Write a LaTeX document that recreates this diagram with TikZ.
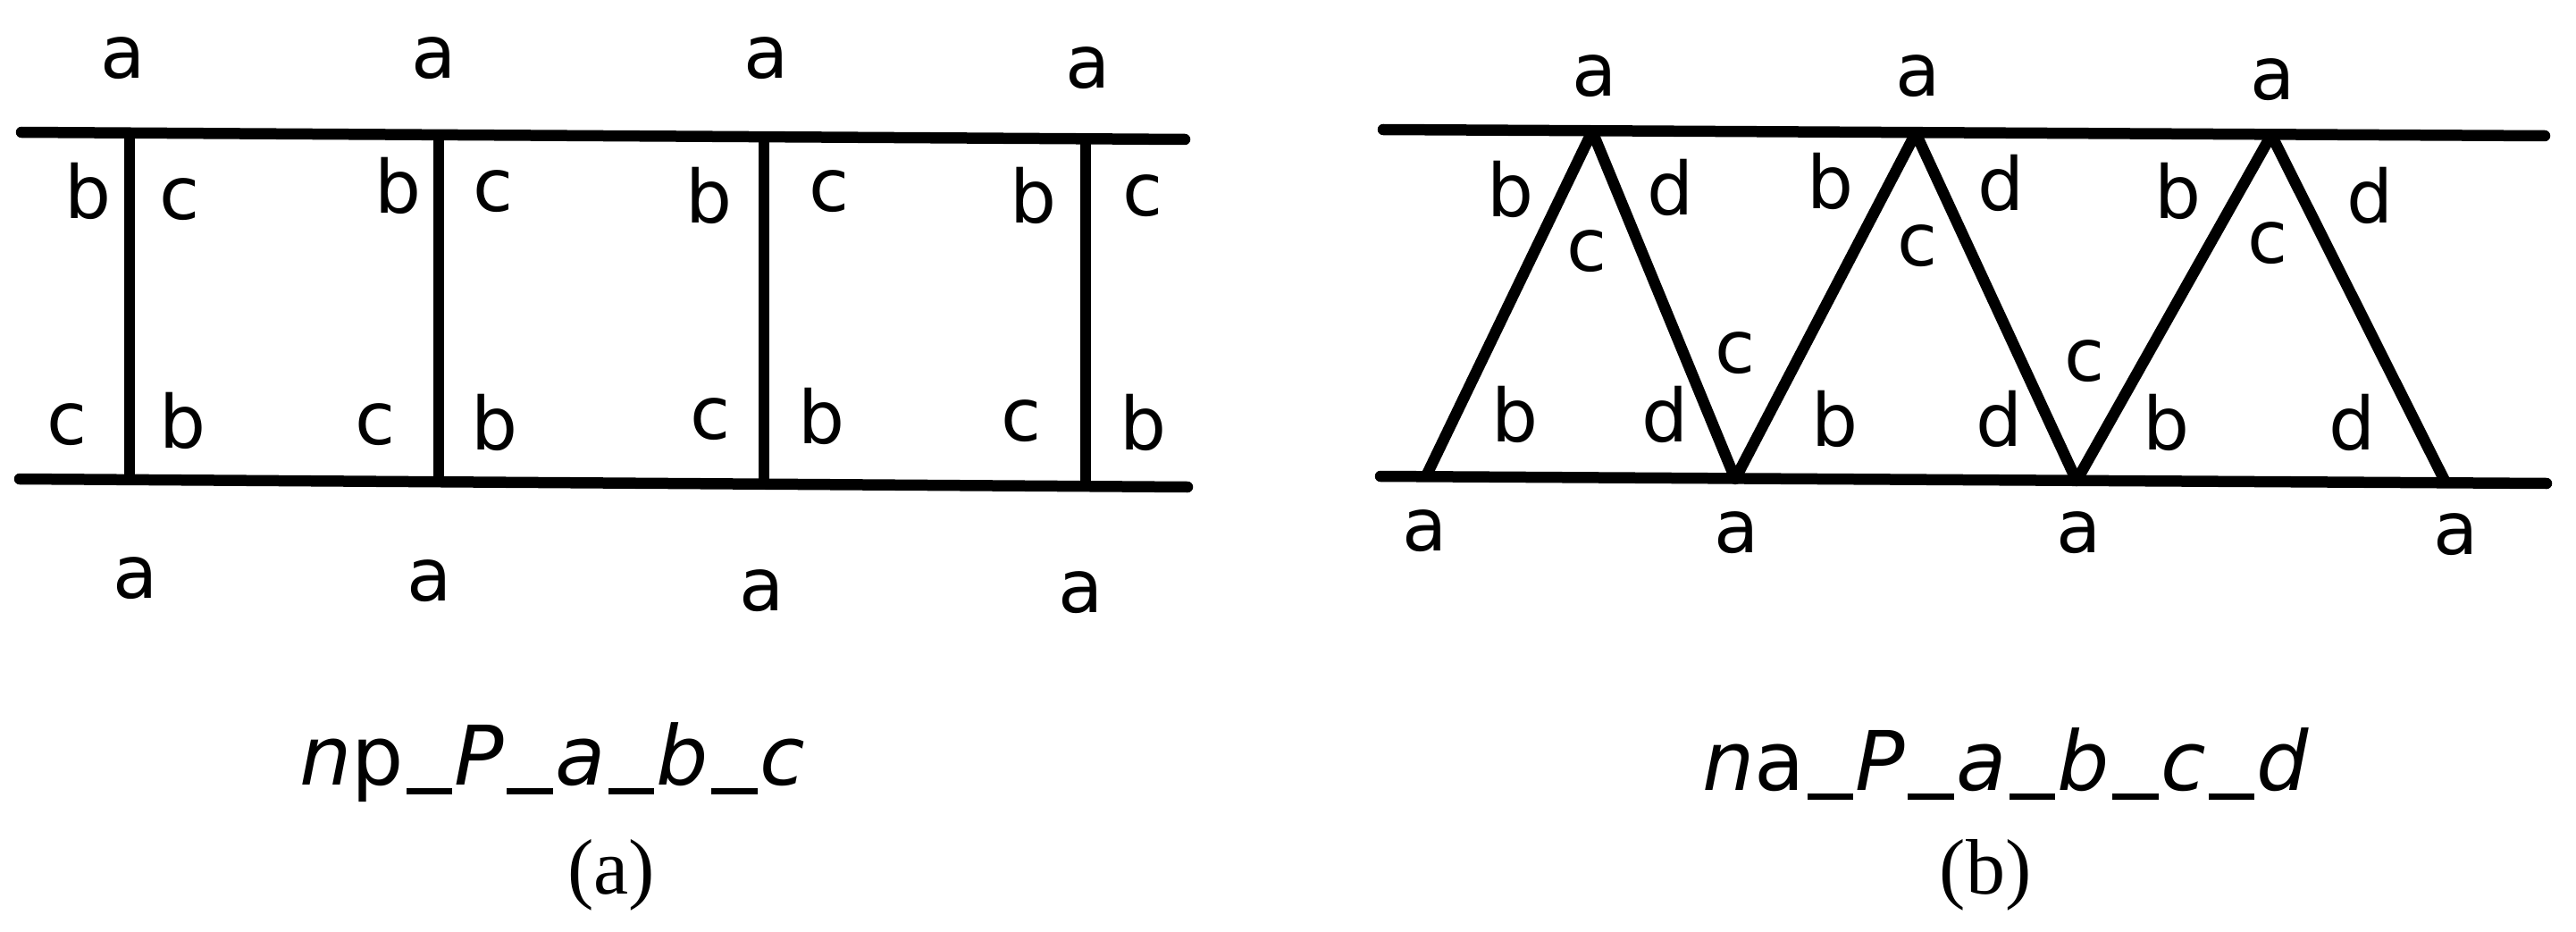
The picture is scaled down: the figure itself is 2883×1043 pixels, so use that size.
\documentclass[tikz,border=0pt]{standalone}
\usepackage{fontspec}
\setmainfont{DejaVu Sans}
\newfontfamily\capserif{Liberation Serif}
\newcommand\usc{\kern0.03em\rule[-0.115em]{0.56em}{0.075em}\kern0.03em}
\begin{document}
\begin{tikzpicture}[x=1pt,y=-1pt,
  lbl/.style={inner sep=0pt, font=\fontsize{82}{90}\selectfont},
  captext/.style={inner sep=0pt, anchor=base west, font=\fontsize{92}{100}\selectfont},
  subtext/.style={inner sep=0pt, anchor=base, font=\capserif\fontsize{88}{95}\selectfont},
  rail/.style={line width=12.5pt, line cap=round},
  rung/.style={line width=12pt},
  zig/.style={line width=12.5pt, line join=round}]
\useasboundingbox (0,0) rectangle (2883,1043);

% ---------------- panel (a) ----------------
\coordinate (aTL) at (24,148);  \coordinate (aTR) at (1326,156);
\coordinate (aBL) at (22,536);  \coordinate (aBR) at (1329,545);
\draw[rail] (aTL) -- (aTR);
\draw[rail] (aBL) -- (aBR);
\foreach \i/\x/\yt/\yb in {1/145/149/537, 2/491/151/539, 3/855/153/542, 4/1215/155/544}{
  \coordinate (at\i) at (\x,\yt);
  \coordinate (ab\i) at (\x,\yb);
  \draw[rung] (at\i) -- (ab\i);
}
\foreach \i/\x/\y in {1/138/65, 2/486/65, 3/858/65, 4/1218/76}{
  \node[lbl] (aTa\i) at (\x,\y) {a};}
\foreach \i/\x/\y in {1/152/647, 2/481/650, 3/853/661, 4/1210/663}{
  \node[lbl] (aBa\i) at (\x,\y) {a};}
\foreach \i/\x/\y in {1/99/214, 2/446/208, 3/794/219, 4/1157/219}{
  \node[lbl] (aUb\i) at (\x,\y) {b};}
\foreach \i/\x/\y in {1/201/223, 2/552/214, 3/928/214, 4/1279/219}{
  \node[lbl] (aUc\i) at (\x,\y) {c};}
\foreach \i/\x/\y in {1/75/475, 2/420/475, 3/795/469, 4/1143/471}{
  \node[lbl] (aLc\i) at (\x,\y) {c};}
\foreach \i/\x/\y in {1/205/471, 2/554/473, 3/920/466, 4/1280/473}{
  \node[lbl] (aLb\i) at (\x,\y) {b};}

\node[captext] (capA) at (335,878) {\itshape n\upshape p\usc\itshape P\usc a\usc b\usc c};
\node[subtext] (subA) at (684,1000) {(a)};

% ---------------- panel (b) ----------------
\coordinate (bTL) at (1548,145); \coordinate (bTR) at (2848,152);
\coordinate (bBL) at (1545,533); \coordinate (bBR) at (2850,541);
\draw[rail] (bTL) -- (bTR);
\draw[rail] (bBL) -- (bBR);
\coordinate (v0) at (1596,533);
\coordinate (p1) at (1782,147);
\coordinate (v1) at (1942,536);
\coordinate (p2) at (2144,149);
\coordinate (v2) at (2324,538);
\coordinate (p3) at (2542,151);
\coordinate (v3) at (2737,540);
\draw[zig] (v0) -- (p1) -- (v1) -- (p2) -- (v2) -- (p3) -- (v3);

\foreach \i/\x/\y in {1/1785/85, 2/2147/85, 3/2544/89}{
  \node[lbl] (bTa\i) at (\x,\y) {a};}
\foreach \i/\x/\y in {1/1595/594, 2/1944/596, 3/2327/596, 4/2749/598}{
  \node[lbl] (bBa\i) at (\x,\y) {a};}
\foreach \i/\x/\y in {1/1691/212, 2/2048/203, 3/2437/214}{
  \node[lbl] (bUb\i) at (\x,\y) {b};}
\foreach \i/\x/\y in {1/1870/210, 2/2239/205, 3/2652/219}{
  \node[lbl] (bUd\i) at (\x,\y) {d};}
\foreach \i/\x/\y in {1/1776/281, 2/2146/275, 3/2538/272}{
  \node[lbl] (bPc\i) at (\x,\y) {c};}
\foreach \i/\x/\y in {1/1942/395, 2/2333/404}{
  \node[lbl] (bVc\i) at (\x,\y) {c};}
\foreach \i/\x/\y in {1/1696/464, 2/2053/469, 3/2424/473}{
  \node[lbl] (bLb\i) at (\x,\y) {b};}
\foreach \i/\x/\y in {1/1864/464, 2/2237/469, 3/2632/473}{
  \node[lbl] (bLd\i) at (\x,\y) {d};}

\node[captext] (capB) at (1905,884) {\itshape n\upshape a\usc\itshape P\usc a\usc b\usc c\usc d};
\node[subtext] (subB) at (2222,1000) {(b)};
\end{tikzpicture}
\end{document}
